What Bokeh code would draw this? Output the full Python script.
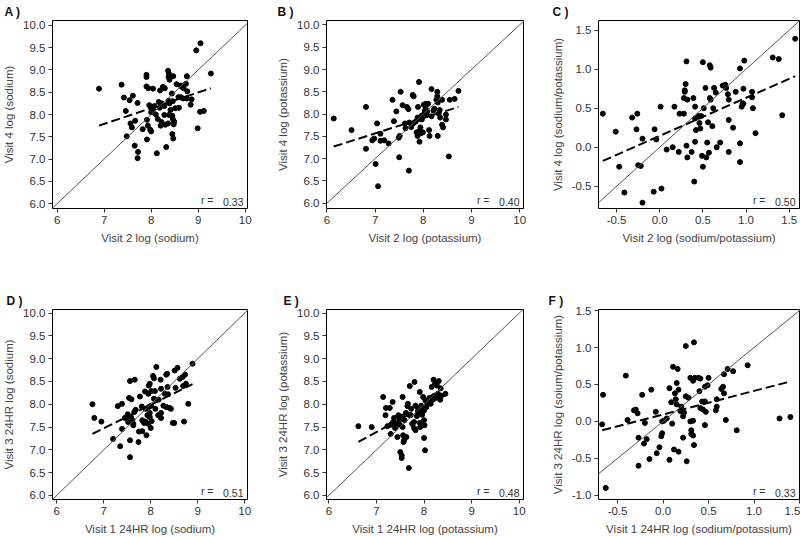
from bokeh.plotting import figure
from bokeh.layouts import row, column
from bokeh.models import Slope, Label, FixedTicker, NumeralTickFormatter, Range1d
from bokeh.embed import file_html
from bokeh.resources import INLINE
import numpy as np

# ---------------- data ----------------
A_x = [6.89, 7.37, 7.42, 7.54, 7.61, 7.71, 7.46, 7.48, 7.56, 7.59,
       7.66, 7.65, 7.72, 7.71, 7.82, 7.90, 7.90, 7.90, 7.94, 8.04,
       7.91, 7.93, 7.91, 7.96, 8.00, 7.98, 8.00, 8.04, 8.07, 8.10,
       8.14, 8.12, 8.16, 8.19, 8.22, 8.20, 8.22, 8.25, 8.29, 8.28,
       8.28, 8.30, 8.32, 8.36, 8.38, 8.37, 8.39, 8.37, 8.39, 8.41,
       8.38, 8.36, 8.44, 8.47, 8.46, 8.45, 8.46, 8.49, 8.48, 8.45,
       8.47, 8.51, 8.54, 8.58, 8.59, 8.63, 8.65, 8.63, 8.68, 8.69,
       8.74, 8.76, 8.77, 8.76, 8.86, 8.84, 8.96, 9.05, 9.27, 9.04,
       9.12, 8.99, 8.00, 8.18]
A_y = [8.58, 8.67, 8.38, 8.32, 8.42, 8.26, 8.08, 7.51, 7.80, 7.71,
       7.86, 7.30, 7.16, 7.02, 7.67, 8.89, 8.84, 8.63, 8.59, 8.58,
       7.88, 7.75, 7.44, 8.21, 8.14, 7.66, 7.62, 8.10, 8.19, 8.00,
       7.90, 7.13, 8.28, 8.54, 8.25, 7.75, 7.83, 8.62, 8.59, 8.19,
       7.99, 7.77, 7.27, 8.98, 8.91, 8.84, 8.78, 8.31, 8.25, 8.10,
       7.99, 7.80, 8.47, 8.86, 8.30, 7.97, 7.90, 7.84, 7.78, 7.56,
       7.46, 8.14, 8.68, 8.39, 8.15, 8.65, 8.62, 8.39, 8.36, 8.59,
       8.69, 8.86, 8.52, 8.36, 8.34, 8.22, 9.44, 9.60, 8.92, 8.06,
       8.08, 7.69, 8.05, 8.15]

B_x = [6.14, 6.51, 6.81, 6.81, 7.06, 7.01, 7.04, 6.94, 6.98, 7.11,
       7.11, 7.19, 7.28, 7.36, 7.39, 7.44, 7.49, 7.50, 7.53, 7.51,
       7.57, 7.62, 7.66, 7.69, 7.63, 7.70, 7.71, 7.75, 7.78, 7.80,
       7.79, 7.84, 7.88, 7.86, 7.88, 7.89, 7.91, 7.92, 7.92, 7.94,
       7.96, 7.97, 7.95, 7.99, 8.02, 8.03, 8.05, 8.07, 8.05, 8.10,
       8.12, 8.13, 8.17, 8.17, 8.21, 8.23, 8.27, 8.29, 8.29, 8.30,
       8.32, 8.30, 8.34, 8.39, 8.39, 8.41, 8.47, 8.47, 8.53, 8.55,
       8.65, 8.73, 8.08, 7.88, 8.01, 8.35]
B_y = [7.90, 7.64, 8.16, 7.22, 6.38, 6.88, 7.79, 7.41, 7.45, 7.56,
       7.40, 7.41, 7.34, 8.32, 7.84, 8.06, 7.47, 7.03, 8.50, 7.51,
       8.20, 7.79, 8.16, 8.11, 7.68, 6.73, 7.81, 7.71, 8.43, 8.40,
       7.79, 7.83, 7.92, 7.59, 7.51, 8.16, 8.72, 7.62, 7.38, 7.70,
       7.96, 7.88, 7.57, 7.59, 8.01, 8.07, 8.12, 7.99, 8.23, 8.23,
       7.64, 7.51, 8.56, 7.95, 8.08, 8.12, 8.32, 8.50, 8.40, 8.26,
       8.01, 7.51, 8.09, 8.32, 7.76, 7.70, 7.99, 7.88, 7.05, 8.32,
       8.34, 8.52, 8.06, 7.88, 8.21, 7.92]

C_x = [-0.66, -0.51, -0.47, -0.41, -0.32, -0.26, -0.27, -0.25, -0.22, -0.20,
       -0.20, -0.06, -0.04, -0.07, 0.01, 0.02, 0.08, 0.15, 0.17, 0.22,
       0.23, 0.28, 0.28, 0.29, 0.30, 0.29, 0.31, 0.32, 0.31, 0.32,
       0.39, 0.37, 0.40, 0.41, 0.41, 0.42, 0.41, 0.45, 0.46, 0.47,
       0.48, 0.49, 0.50, 0.50, 0.51, 0.53, 0.54, 0.56, 0.55, 0.58,
       0.57, 0.58, 0.59, 0.59, 0.61, 0.62, 0.63, 0.65, 0.66, 0.70,
       0.73, 0.76, 0.77, 0.79, 0.80, 0.80, 0.80, 0.85, 0.88, 0.93,
       0.93, 0.93, 0.95, 0.96, 0.97, 0.98, 0.97, 1.07, 1.07, 1.08,
       1.11, 1.31, 1.38, 1.42, 1.57]
C_y = [0.43, 0.20, -0.25, -0.58, 0.38, 0.43, 0.23, -0.23, -0.24, 0.11,
       -0.71, 0.23, 0.10, -0.57, 0.52, -0.53, -0.03, 0.00, 0.52, -0.06,
       0.43, 0.43, 0.63, 0.73, 0.81, 0.71, 1.10, 0.61, 0.02, -0.13,
       0.63, -0.06, -0.44, 0.52, 0.37, 0.22, 0.07, 0.40, 0.31, 0.24,
       0.40, -0.11, 1.09, -0.25, 0.50, 0.76, -0.13, 0.32, 0.06, 0.63,
       -0.07, 1.05, 1.02, 0.61, 0.27, 0.50, 0.76, 0.70, 0.00, 0.06,
       0.79, 0.80, 0.76, 0.68, 0.61, 0.35, -0.06, 0.25, 0.71, 1.01,
       0.05, -0.19, 0.52, 0.56, 0.75, 1.11, 0.56, 0.71, 0.64, 0.50,
       0.18, 1.15, 1.13, 0.41, 1.39]

D_x = [6.76, 6.80, 6.95, 7.20, 7.30, 7.35, 7.39, 7.39, 7.45, 7.49,
       7.52, 7.51, 7.56, 7.56, 7.56, 7.54, 7.59, 7.58, 7.61, 7.65,
       7.63, 7.63, 7.66, 7.68, 7.74, 7.75, 7.77, 7.81, 7.82, 7.82,
       7.86, 7.88, 7.89, 7.89, 7.91, 7.93, 7.95, 7.95, 7.96, 7.98,
       7.96, 7.98, 7.98, 8.00, 8.01, 8.02, 8.01, 8.05, 8.07, 8.07,
       8.09, 8.12, 8.17, 8.21, 8.22, 8.22, 8.22, 8.27, 8.30, 8.33,
       8.35, 8.33, 8.36, 8.37, 8.40, 8.43, 8.47, 8.50, 8.51, 8.53,
       8.57, 8.62, 8.68, 8.69, 8.71, 8.73, 8.75, 8.80, 8.89, 8.16,
       8.10]
D_y = [8.00, 7.70, 7.62, 7.24, 7.96, 7.08, 8.01, 7.46, 7.70, 7.72,
       7.61, 7.78, 8.51, 7.21, 6.84, 8.14, 8.11, 7.72, 7.65, 7.83,
       7.54, 7.57, 8.54, 7.88, 7.17, 7.40, 8.17, 7.95, 7.41, 7.65,
       7.59, 8.28, 7.90, 7.62, 7.32, 7.76, 7.57, 8.23, 8.41, 8.45,
       7.94, 7.81, 7.72, 7.48, 8.29, 7.63, 7.97, 8.62, 8.57, 8.12,
       8.29, 8.82, 8.10, 8.54, 8.34, 7.81, 7.70, 7.97, 8.23, 8.65,
       8.67, 7.94, 8.38, 8.22, 7.92, 7.90, 7.59, 7.59, 8.74, 8.36,
       8.80, 8.56, 8.60, 8.40, 7.62, 8.65, 8.45, 8.01, 8.89, 7.76,
       7.90]

E_x = [6.62, 6.90, 7.14, 7.19, 7.20, 7.23, 7.28, 7.30, 7.30, 7.34,
       7.35, 7.37, 7.39, 7.41, 7.44, 7.46, 7.49, 7.49, 7.50, 7.53,
       7.53, 7.55, 7.54, 7.55, 7.56, 7.57, 7.58, 7.59, 7.62, 7.63,
       7.65, 7.66, 7.68, 7.70, 7.68, 7.72, 7.73, 7.75, 7.79, 7.79,
       7.80, 7.82, 7.82, 7.85, 7.87, 7.87, 7.91, 7.91, 7.92, 7.94,
       7.96, 7.98, 8.00, 8.00, 8.00, 8.02, 8.03, 8.01, 8.05, 8.07,
       8.08, 8.11, 8.14, 8.16, 8.16, 8.20, 8.22, 8.23, 8.25, 8.27,
       8.29, 8.31, 8.32, 8.34, 8.35, 8.36, 8.45, 7.94, 8.18]
E_y = [7.52, 7.50, 8.16, 7.76, 7.92, 7.52, 7.92, 7.55, 7.35, 8.05,
       7.61, 7.70, 7.48, 7.57, 7.28, 7.76, 7.67, 7.55, 6.95, 6.88,
       6.82, 8.16, 7.73, 7.50, 7.32, 7.17, 7.21, 7.65, 7.81, 7.28,
       7.96, 8.01, 7.77, 8.40, 6.60, 7.76, 7.90, 7.57, 7.48, 7.61,
       8.49, 7.97, 7.43, 7.74, 7.83, 7.92, 8.27, 7.59, 7.50, 7.97,
       7.77, 8.16, 7.86, 7.65, 7.26, 6.99, 8.08, 7.54, 7.94, 8.01,
       8.06, 8.14, 8.01, 8.38, 8.11, 8.54, 8.19, 8.45, 8.14, 8.41,
       8.23, 8.51, 8.16, 8.10, 8.35, 8.19, 8.23, 7.86, 8.16]

F_x = [-0.66, -0.67, -0.63, -0.41, -0.39, -0.32, -0.30, -0.28, -0.27, -0.27,
       -0.23, -0.21, -0.20, -0.18, -0.15, -0.13, -0.08, -0.07, -0.04, -0.02,
       -0.01, -0.01, 0.01, 0.04, 0.07, 0.07, 0.09, 0.11, 0.10, 0.12,
       0.13, 0.14, 0.15, 0.16, 0.15, 0.17, 0.17, 0.19, 0.20, 0.22,
       0.23, 0.22, 0.25, 0.25, 0.26, 0.28, 0.30, 0.30, 0.31, 0.31,
       0.33, 0.33, 0.33, 0.34, 0.34, 0.35, 0.39, 0.40, 0.41, 0.41,
       0.43, 0.44, 0.46, 0.46, 0.46, 0.47, 0.49, 0.50, 0.58, 0.59,
       0.59, 0.64, 0.66, 0.67, 0.67, 0.69, 0.71, 0.77, 0.81, 0.93,
       1.28, 1.40]
F_y = [0.36, -0.04, -0.90, 0.62, 0.02, 0.15, 0.16, 0.11, -0.22, -0.60,
       0.36, -0.30, -0.02, -0.24, -0.51, 0.43, 0.13, -0.43, -0.35, -0.20,
       -0.16, 0.00, 0.01, 0.04, 0.45, -0.52, 0.26, 0.74, -0.03, -0.38,
       0.38, 0.30, 0.23, 0.71, 0.52, 0.43, -0.41, 0.14, 0.20, 0.07,
       0.12, -0.22, 1.02, 0.34, -0.54, 0.32, 0.59, 0.00, -0.12, -0.17,
       0.55, 0.01, -0.19, -0.32, 1.07, 0.59, 0.59, 0.41, 0.18, 0.58,
       0.27, 0.16, 0.47, 0.27, -0.05, 0.13, 0.49, 0.59, 0.15, 0.30,
       0.20, 0.44, 0.47, 0.64, 0.38, 0.02, 0.71, 0.68, -0.12, 0.76,
       0.04, 0.06]

# dashed fitted lines (slope, intercept)
fit_slope = [0.353, 0.344, 0.487, 0.514, 0.56, 0.319]
fit_intercept = [5.318, 5.158, 0.146, 3.875, 3.47, 0.094]
r_values = ["0.33", "0.40", "0.50", "0.51", "0.48", "0.33"]
panel_tags = ["A )", "B )", "C )", "D )", "E )", "F )"]

x_titles = ["Visit 2 log (sodium)", "Visit 2 log (potassium)", "Visit 2 log (sodium/potassium)",
            "Visit 1 24HR log (sodium)", "Visit 1 24HR log (potassium)", "Visit 1 24HR log (sodium/potassium)"]
y_titles = ["Visit 4 log (sodium)", "Visit 4 log (potassium)", "Visit 4 log (sodium/potassium)",
            "Visit 3 24HR log (sodium)", "Visit 3 24HR log (potassium)", "Visit 3 24HR log (soium/potassium)"]

ticks_level_x = [6, 7, 8, 9, 10]
ticks_level_y = [6.0, 6.5, 7.0, 7.5, 8.0, 8.5, 9.0, 9.5, 10.0]
ticks_ratio = [-0.5, 0.0, 0.5, 1.0, 1.5]
ticks_ratio_f = [-1.0, -0.5, 0.0, 0.5, 1.0, 1.5]

x_ranges = [(5.9, 10.05), (5.99, 10.08), (-0.71, 1.62), (5.91, 10.06), (5.95, 10.09), (-0.71, 1.5)]
y_ranges = [(5.89, 10.11), (5.88, 10.10), (-0.785, 1.624), (5.91, 10.08), (5.91, 10.08), (-1.057, 1.515)]

xs = [A_x, B_x, C_x, D_x, E_x, F_x]
ys = [A_y, B_y, C_y, D_y, E_y, F_y]
xticks = [ticks_level_x, ticks_level_x, ticks_ratio, ticks_level_x, ticks_level_x, ticks_ratio]
yticks = [ticks_level_y, ticks_level_y, ticks_ratio, ticks_level_y, ticks_level_y, ticks_ratio_f]
xfmt = ["0", "0", "0.0", "0", "0", "0.0"]

# layout (pixels)
col_w = [270, 260, 270]
b_left = [48, 56, 68]
b_right = [23, 7, 1]
title_off = [-48, -49, -46, -46, -43, -50]
row_h = [268, 269]
b_top = [17, 41]
b_bot = [60, 38]

FONT = "Liberation Sans"


def make_panel(i):
    c, r = i % 3, i // 3
    p = figure(width=col_w[c], height=row_h[r], output_backend="svg", toolbar_location=None,
               x_range=Range1d(*x_ranges[i]), y_range=Range1d(*y_ranges[i]),
               min_border_left=b_left[c], min_border_right=b_right[c],
               min_border_top=b_top[r], min_border_bottom=b_bot[r])
    p.background_fill_color = "white"
    p.border_fill_color = "white"
    p.outline_line_color = "black"
    p.outline_line_width = 1
    p.grid.visible = False
    p.title.text = panel_tags[i]
    p.title.align = "left"
    p.title.offset = title_off[i]
    p.title.standoff = 4
    p.title.text_font = FONT
    p.title.text_font_size = "12px"
    p.title.text_font_style = "bold"
    p.title.text_color = "#111111"

    p.xaxis.ticker = FixedTicker(ticks=xticks[i])
    p.yaxis.ticker = FixedTicker(ticks=yticks[i])
    p.xaxis.formatter = NumeralTickFormatter(format=xfmt[i])
    p.yaxis.formatter = NumeralTickFormatter(format="0.0")
    p.xaxis.axis_label = x_titles[i]
    p.yaxis.axis_label = y_titles[i]
    for ax in (p.xaxis, p.yaxis):
        ax.axis_line_color = None
        ax.major_tick_out = 4
        ax.major_tick_in = 0
        ax.major_tick_line_color = "#333333"
        ax.minor_tick_line_color = None
        ax.major_label_standoff = 3
        ax.axis_label_standoff = 5
        ax.major_label_text_font = FONT
        ax.major_label_text_font_size = "11.5px"
        ax.major_label_text_color = "#333333"
        ax.axis_label_text_font = FONT
        ax.axis_label_text_font_size = "11.5px"
        ax.axis_label_text_font_style = "normal"
        ax.axis_label_text_color = "#444444"

    p.add_layout(Slope(gradient=1, y_intercept=0, line_color="#555555", line_width=1))

    x = np.array(xs[i])
    y = np.array(ys[i])
    p.scatter(x, y, size=5, color="black", line_color="black")

    fx = np.array([x.min(), x.max()])
    fy = fit_intercept[i] + fit_slope[i] * fx
    p.line(fx, fy, line_color="black", line_width=2, line_dash="9 4")

    xr = x_ranges[i]
    yr = y_ranges[i]
    p.add_layout(Label(x=xr[1], y=yr[0], text=r_values[i], text_align="right",
                       text_baseline="bottom", x_offset=-4, y_offset=3,
                       text_font=FONT, text_font_size="10.5px", text_color="#333333"))
    p.add_layout(Label(x=xr[1], y=yr[0], text="r =", text_align="right",
                       text_baseline="bottom", x_offset=-34, y_offset=3,
                       text_font=FONT, text_font_size="10.5px", text_color="#333333"))
    return p


panels = [make_panel(i) for i in range(6)]
layout = column(row(*panels[:3]), row(*panels[3:]))

open("out.html", "w").write(file_html(layout, INLINE))
